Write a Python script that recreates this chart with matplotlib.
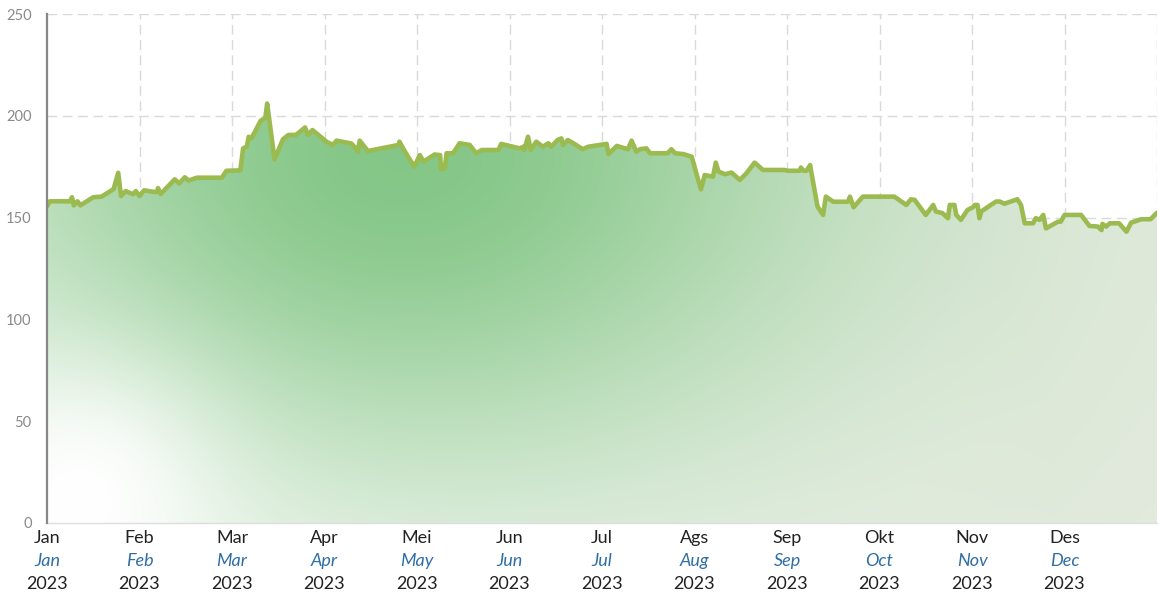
import numpy as np
import matplotlib
matplotlib.use("Agg")
import matplotlib.pyplot as plt
from matplotlib.patches import Polygon
from matplotlib import transforms

# ---- data (x in month units: 0 = start of Jan, 12 = end of Dec) ----
month_pos = [0.00, 0.03, 0.25, 0.27, 0.29, 0.33, 0.36, 0.50, 0.59, 0.72, 0.77, 0.80, 0.85, 0.93, 0.96,
             1.00, 1.05, 1.13, 1.19, 1.20, 1.23, 1.29, 1.38, 1.43, 1.49, 1.53, 1.62, 1.89, 1.94,
             2.09, 2.12, 2.16, 2.18, 2.21, 2.31, 2.36, 2.38, 2.46, 2.55, 2.61, 2.69, 2.73, 2.79, 2.82, 2.87, 2.95,
             3.02, 3.09, 3.13, 3.29, 3.33, 3.36, 3.38, 3.47, 3.80, 3.81, 3.87, 3.97,
             4.03, 4.07, 4.19, 4.25, 4.26, 4.30, 4.32, 4.39, 4.46, 4.57, 4.64, 4.70, 4.88, 4.91,
             5.00, 5.11, 5.15, 5.16, 5.20, 5.23, 5.29, 5.36, 5.42, 5.45, 5.52, 5.56, 5.58, 5.63, 5.69, 5.72, 5.79, 5.85,
             6.05, 6.07, 6.16, 6.28, 6.32, 6.37, 6.41, 6.48, 6.52, 6.71, 6.75, 6.79, 6.88, 6.97,
             7.02, 7.07, 7.11, 7.20, 7.23, 7.26, 7.33, 7.40, 7.49, 7.56, 7.65, 7.74, 7.97,
             8.01, 8.14, 8.15, 8.18, 8.21, 8.25, 8.26, 8.33, 8.39, 8.42, 8.50, 8.66, 8.68, 8.72, 8.82,
             9.16, 9.29, 9.34, 9.38, 9.50, 9.58, 9.61, 9.68, 9.74, 9.76, 9.81, 9.83, 9.88, 9.95,
             10.01, 10.03, 10.06, 10.08, 10.10, 10.19, 10.26, 10.30, 10.35, 10.42, 10.49, 10.53, 10.57, 10.66,
             10.69, 10.73, 10.77, 10.80, 10.93, 10.96,
             11.00, 11.18, 11.27, 11.36, 11.40, 11.41, 11.45, 11.49, 11.59, 11.67, 11.72, 11.83, 11.93, 12.00]
values = [155.5, 158, 158, 160, 156, 158, 156, 160, 160.3, 164, 172, 160.6, 163, 161.5, 163,
          160.6, 163.4, 162.8, 162.5, 164.5, 161.6, 164.5, 168.8, 166.8, 169.8, 168.2, 169.6, 169.6, 173,
          173.2, 184, 184.8, 189.7, 188.9, 197.6, 198.8, 206, 178.6, 188.4, 190.6, 190.6, 192, 194.3, 190.6, 193, 190,
          187.3, 185.7, 187.8, 186.4, 184.4, 182.4, 187.8, 182.7, 185.7, 187.3, 182.4, 175,
          180.7, 177.5, 181, 180.7, 173.7, 174.2, 181.6, 181.6, 186.5, 185.7, 181.6, 183.2, 183.2, 186.2,
          185.2, 184, 184.8, 183.2, 189.7, 183.2, 187.3, 184.8, 186.5, 184.8, 188.1, 188.9, 185.7, 188.1, 186.5, 185.7, 183.6, 184.8,
          186.2, 181.2, 185.2, 183.6, 187.8, 182.4, 183.6, 184, 181.6, 181.6, 183.6, 181.6, 181.2, 179.9,
          171.7, 163.9, 170.9, 170.1, 177, 172.6, 171.3, 172.1, 168.5, 171.7, 177, 173.4, 173.4,
          173, 173, 174.6, 173, 173, 175.8, 173, 155.4, 151.3, 160.3, 157.8, 157.8, 160.3, 155.1, 160.3,
          160.3, 156.2, 159, 158.7, 151.3, 156.2, 153, 152.2, 149.7, 156.2, 156.2, 151.3, 148.9, 153.7,
          155.1, 156.2, 156.2, 149.7, 153, 155.8, 157.9, 157.9, 156.8, 157.9, 159, 156.2, 147.2, 147.2,
          149.7, 148.9, 151.3, 144.7, 148, 148,
          151.3, 151.3, 145.9, 145.6, 143.9, 146.9, 145.6, 147.2, 147.2, 143.1, 147.5, 149.2, 149.2, 152.4]

month_labels_id = ["Jan", "Feb", "Mar", "Apr", "Mei", "Jun", "Jul", "Ags", "Sep", "Okt", "Nov", "Des"]
month_labels_en = ["Jan", "Feb", "Mar", "Apr", "May", "Jun", "Jul", "Aug", "Sep", "Oct", "Nov", "Dec"]
year_label = "2023"
y_ticks = [0, 50, 100, 150, 200, 250]

plt.rcParams['font.family'] = ['Lato', 'DejaVu Sans']

fig = plt.figure(figsize=(11.59, 5.92), dpi=100)
ax = fig.add_axes([47 / 1159, (592 - 523) / 592, 1110 / 1159, 509 / 592])
ax.set_xlim(0, 12)
ax.set_ylim(0, 250)

# grid
for m in range(1, 13):
    ax.axvline(m, color='#d9d9d9', lw=1.0, ls=(0, (7, 4)), zorder=0)
for t in y_ticks[1:]:
    ax.axhline(t, color='#d9d9d9', lw=1.0, ls=(0, (7, 4)), zorder=0)

# gradient fill
nx, ny = 600, 300
u = np.linspace(0, 1, nx)[None, :]
w = np.linspace(1, 0, ny)[:, None]
a = np.exp(-((u - 0.32) / 0.40) ** 2 - ((w - 0.72) / 0.62) ** 2)
# white glow at bottom-left
s = np.exp(-((u - 0.03) / 0.12) ** 2 - ((w - 0.05) / 0.26) ** 2)
a = np.clip(a * (1 - 0.97 * s), 0, 1)
white = np.array([1.0, 1.0, 1.0])
gray = np.array([0.89, 0.92, 0.87])
green = np.array([0.52, 0.78, 0.53])
b = np.clip(np.sqrt(u ** 2 * 1.0 + (w * 0.6) ** 2) * 1.1, 0, 1) * (1 - s)
base = white[None, None, :] * (1 - b[..., None]) + gray[None, None, :] * b[..., None]
img = base * (1 - a[..., None]) + green[None, None, :] * a[..., None]
im = ax.imshow(img, extent=[0, 12, 0, 250], aspect='auto', zorder=1, interpolation='bilinear')
verts = list(zip(month_pos, values)) + [(12, 0), (0, 0)]
poly = Polygon(verts, closed=True, facecolor='none', edgecolor='none')
ax.add_patch(poly)
im.set_clip_path(poly)

ax.plot(month_pos, values, color='#9bbb50', lw=3.3, solid_joinstyle='round', solid_capstyle='round', zorder=3)

# spines
for sp in ['top', 'right']:
    ax.spines[sp].set_visible(False)
ax.spines['left'].set_color('#888888')
ax.spines['left'].set_linewidth(1.6)
ax.spines['left'].set_zorder(4)
ax.spines['bottom'].set_color('#dddddd')
ax.spines['bottom'].set_linewidth(1.0)

ax.set_yticks(y_ticks)
ax.set_yticklabels([str(t) for t in y_ticks], color='#8a8a8a', fontsize=10.5)
ax.tick_params(axis='y', length=0, pad=11)
ax.set_xticks([])

tr = ax.get_xaxis_transform()
for i in range(12):
    ax.text(i, 0, month_labels_id[i], transform=transforms.offset_copy(tr, fig=fig, y=-11, units='points'),
            ha='center', va='center', fontsize=13, color='#222222', clip_on=False)
    ax.text(i, 0, month_labels_en[i], transform=transforms.offset_copy(tr, fig=fig, y=-27.6, units='points'),
            ha='center', va='center', fontsize=13, color='#2f6ea5', style='italic', clip_on=False)
    ax.text(i, 0, year_label, transform=transforms.offset_copy(tr, fig=fig, y=-44.2, units='points'),
            ha='center', va='center', fontsize=13, color='#222222', clip_on=False)

fig.savefig('out.png', dpi=100)
